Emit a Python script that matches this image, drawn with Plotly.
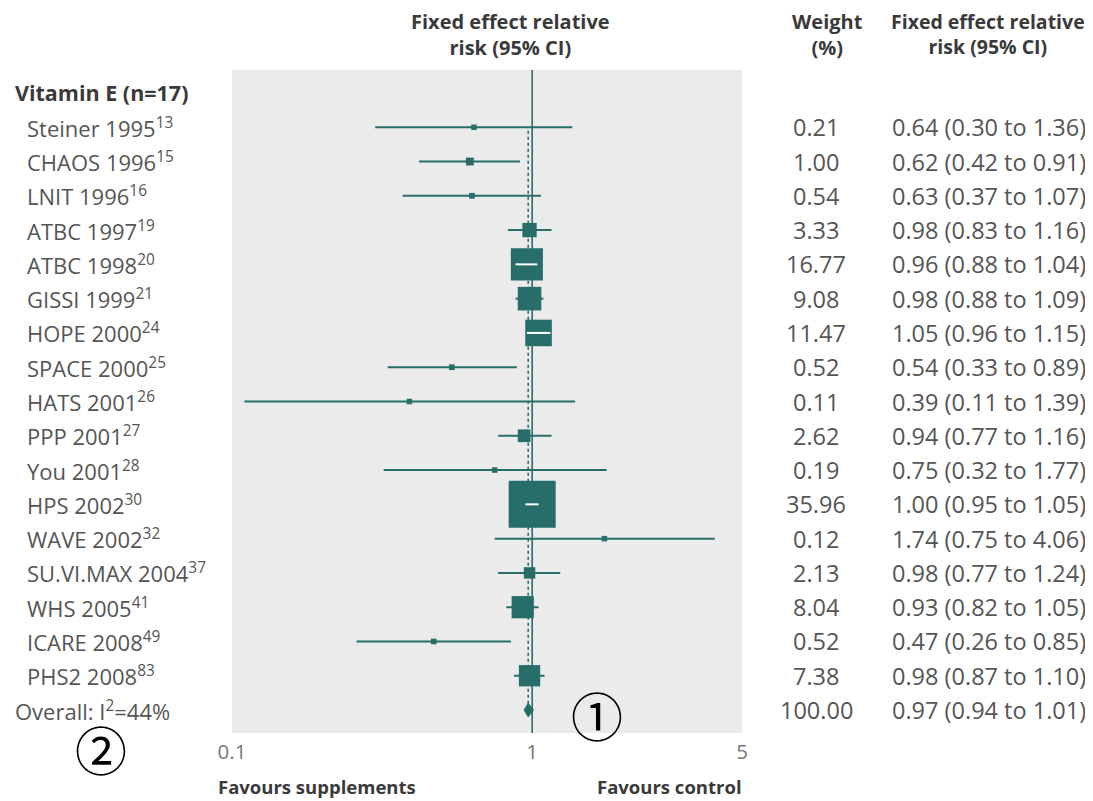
import math
import plotly.graph_objects as go

# ---------------- data ----------------
group_label = "Vitamin E (n=17)"
studies = ["Steiner 1995", "CHAOS 1996", "LNIT 1996", "ATBC 1997", "ATBC 1998",
           "GISSI 1999", "HOPE 2000", "SPACE 2000", "HATS 2001", "PPP 2001",
           "You 2001", "HPS 2002", "WAVE 2002", "SU.VI.MAX 2004", "WHS 2005",
           "ICARE 2008", "PHS2 2008"]
refs = ["13", "15", "16", "19", "20", "21", "24", "25", "26", "27", "28",
        "30", "32", "37", "41", "49", "83"]
weights = [0.21, 1.00, 0.54, 3.33, 16.77, 9.08, 11.47, 0.52, 0.11, 2.62,
           0.19, 35.96, 0.12, 2.13, 8.04, 0.52, 7.38]
rr = [0.64, 0.62, 0.63, 0.98, 0.96, 0.98, 1.05, 0.54, 0.39, 0.94, 0.75,
      1.00, 1.74, 0.98, 0.93, 0.47, 0.98]
ci_lo = [0.30, 0.42, 0.37, 0.83, 0.88, 0.88, 0.96, 0.33, 0.11, 0.77, 0.32,
         0.95, 0.75, 0.77, 0.82, 0.26, 0.87]
ci_hi = [1.36, 0.91, 1.07, 1.16, 1.04, 1.09, 1.15, 0.89, 1.39, 1.16, 1.77,
         1.05, 4.06, 1.24, 1.05, 0.85, 1.10]
overall_label = "Overall: I<sup>2</sup>=44%"
overall_weight = 100.00
overall_rr, overall_lo, overall_hi = 0.97, 0.94, 1.01
tick_vals = [0.1, 1, 5]
tick_text = ["0.1", "1", "5"]

# ---------------- styling ----------------
OFF = 8  # page body margin
W, H = 1093 - OFF, 801 - OFF
ML, MT = 232 - OFF, 70 - OFF
PR, PB = 742 - OFF, 733 - OFF
MR, MB = W - PR, H - PB
PW, PH = PR - ML, PB - MT
TEAL = "#276e6a"
BG = "#ebebeb"
TXT = "#555555"
BOLD = "#3a3a3a"
FONT = "Open Sans"
XMIN, XMAX = math.log10(0.1), math.log10(5)
PX_PER_DEC = PW / (XMAX - XMIN)

n = len(studies)
rows = list(range(1, n + 1))
overall_row = n + 1
YTOP, YBOT = -0.67, overall_row + 0.67


def px_x(px):
    return (px - OFF - ML) / PW


def px_y(py):
    return (PB - (py - OFF)) / PH


sizes = [max(5.5, 7.84 * math.sqrt(w)) for w in weights]

fig = go.Figure()

# reference line at 1
fig.add_trace(go.Scatter(x=[1, 1], y=[YTOP, YBOT], mode="lines",
                         line=dict(color=TEAL, width=1.6), hoverinfo="skip"))
# dotted line at overall estimate
fig.add_trace(go.Scatter(x=[overall_rr, overall_rr], y=[1.1, overall_row],
                         mode="lines", line=dict(color=TEAL, width=1.6, dash="dot"),
                         hoverinfo="skip"))

# CI lines
cx, cy = [], []
for r, lo, hi in zip(rows, ci_lo, ci_hi):
    cx += [lo, hi, None]
    cy += [r, r, None]
fig.add_trace(go.Scatter(x=cx, y=cy, mode="lines",
                         line=dict(color=TEAL, width=2), hoverinfo="skip"))

# boxes
fig.add_trace(go.Scatter(x=rr, y=rows, mode="markers",
                         marker=dict(symbol="square", size=sizes, color=TEAL,
                                     opacity=1, line=dict(width=0)),
                         hoverinfo="skip"))

# white CI where completely inside box
wx, wy = [], []
for r, est, lo, hi, s in zip(rows, rr, ci_lo, ci_hi, sizes):
    half = s / 2 / PX_PER_DEC
    if math.log10(lo) > math.log10(est) - half and math.log10(hi) < math.log10(est) + half:
        wx += [lo, hi, None]
        wy += [r, r, None]
fig.add_trace(go.Scatter(x=wx, y=wy, mode="lines",
                         line=dict(color="white", width=2), hoverinfo="skip"))

# overall diamond
dh = 0.2
fig.add_trace(go.Scatter(x=[overall_lo, overall_rr, overall_hi, overall_rr, overall_lo],
                         y=[overall_row, overall_row - dh, overall_row, overall_row + dh, overall_row],
                         mode="lines", fill="toself", fillcolor=TEAL,
                         line=dict(color=TEAL, width=1), hoverinfo="skip"))

LBL = 22
NUM = 23.5
ann = []
# group header
ann.append(dict(x=px_x(13), xref="paper", y=0, yref="y", xanchor="left",
                text="<b>" + group_label + "</b>",
                font=dict(family=FONT, size=21.5, color=BOLD)))
for r, s, rf, w, e, lo, hi in zip(rows, studies, refs, weights, rr, ci_lo, ci_hi):
    ann.append(dict(x=px_x(25), xref="paper", y=r, yref="y", xanchor="left",
                    text=f"{s}<sup>{rf}</sup>",
                    font=dict(family=FONT, size=LBL, color=TXT)))
    ann.append(dict(x=px_x(816), xref="paper", y=r, yref="y", xanchor="center",
                    text=f"{w:.2f}", font=dict(family=FONT, size=NUM, color=TXT)))
    ann.append(dict(x=px_x(890), xref="paper", y=r, yref="y", xanchor="left",
                    text=f"{e:.2f} ({lo:.2f} to {hi:.2f})",
                    font=dict(family=FONT, size=NUM, color=TXT)))
ann.append(dict(x=px_x(13), xref="paper", y=overall_row, yref="y", xanchor="left",
                text=overall_label, font=dict(family=FONT, size=LBL, color=TXT)))
ann.append(dict(x=px_x(816), xref="paper", y=overall_row, yref="y", xanchor="center",
                text=f"{overall_weight:.2f}", font=dict(family=FONT, size=NUM, color=TXT)))
ann.append(dict(x=px_x(890), xref="paper", y=overall_row, yref="y", xanchor="left",
                text=f"{overall_rr:.2f} ({overall_lo:.2f} to {overall_hi:.2f})",
                font=dict(family=FONT, size=NUM, color=TXT)))

# column headers
hdr_y = px_y(34.5)
ann.append(dict(x=px_x(510), xref="paper", y=hdr_y, yref="paper", xanchor="center",
                yanchor="middle", text="<b>Fixed effect relative<br>risk (95% CI)</b>",
                font=dict(family=FONT, size=20, color=BOLD)))
ann.append(dict(x=px_x(827), xref="paper", y=hdr_y, yref="paper", xanchor="center",
                yanchor="middle", text="<b>Weight<br>(%)</b>",
                font=dict(family=FONT, size=20, color=BOLD)))
ann.append(dict(x=px_x(988), xref="paper", y=hdr_y, yref="paper", xanchor="center",
                yanchor="middle", text="<b>Fixed effect relative<br>risk (95% CI)</b>",
                font=dict(family=FONT, size=19.5, color=BOLD)))

# favours labels
ann.append(dict(x=px_x(216), xref="paper", y=px_y(786), yref="paper", xanchor="left",
                yanchor="middle", text="<b>Favours supplements</b>",
                font=dict(family=FONT, size=18.5, color=BOLD)))
ann.append(dict(x=px_x(595), xref="paper", y=px_y(786), yref="paper", xanchor="left",
                yanchor="middle", text="<b>Favours control</b>",
                font=dict(family=FONT, size=18.5, color=BOLD)))

# circled markers
ann.append(dict(x=px_x(597), xref="paper", y=px_y(714), yref="paper", xanchor="center",
                yanchor="middle", text="①",
                font=dict(family="Noto Sans CJK JP", size=52, color="black")))
ann.append(dict(x=px_x(101), xref="paper", y=px_y(748), yref="paper", xanchor="center",
                yanchor="middle", text="②",
                font=dict(family="Noto Sans CJK JP", size=52, color="black")))

for a in ann:
    a.setdefault("showarrow", False)
    a.setdefault("yanchor", "middle")

fig.update_layout(
    width=W, height=H,
    margin=dict(l=ML, r=MR, t=MT, b=MB, pad=0),
    paper_bgcolor="white", plot_bgcolor=BG,
    showlegend=False,
    annotations=ann,
    xaxis=dict(type="log", range=[XMIN, XMAX], tickvals=tick_vals, ticktext=tick_text,
               showgrid=False, zeroline=False, showline=False, ticks="",
               ticklabelstandoff=4,
               tickfont=dict(family=FONT, size=20.5, color="#777777"), fixedrange=True),
    yaxis=dict(range=[YBOT, YTOP], visible=False, showgrid=False, zeroline=False,
               fixedrange=True),
)

fig.write_html("out.html")
